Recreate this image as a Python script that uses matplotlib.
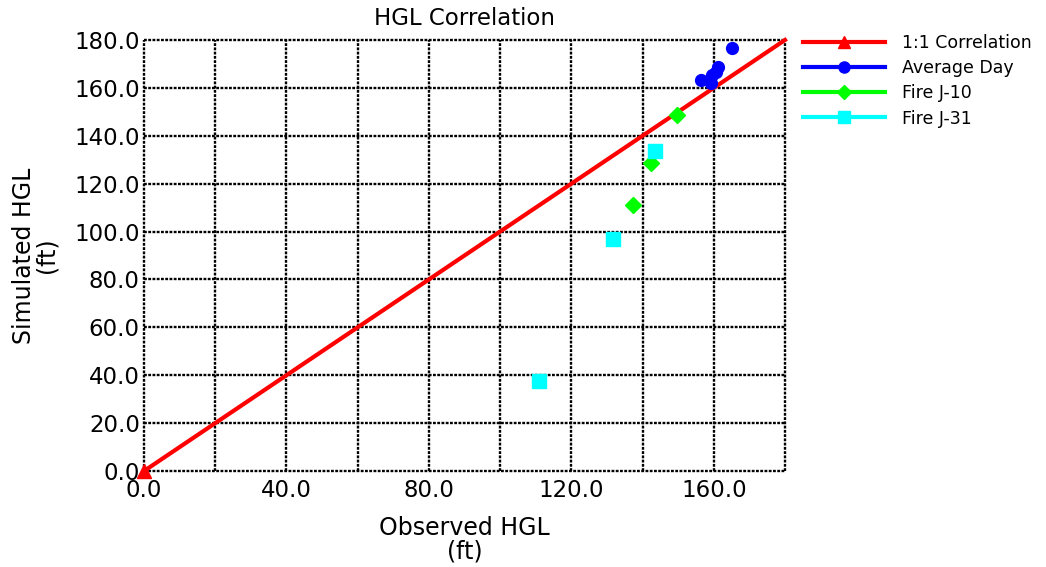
import matplotlib
matplotlib.use("Agg")
import matplotlib.pyplot as plt
from matplotlib.lines import Line2D

plt.rcParams['font.family'] = ['DejaVu Sans']

corr_x = [0.0, 180.0]
corr_y = [0.0, 180.0]

avg_x = [156.3, 159.2, 159.6, 160.5, 161.3, 165.2]
avg_y = [163.3, 161.9, 165.5, 166.8, 168.6, 176.8]

j10_x = [137.2, 142.3, 149.6]
j10_y = [111.1, 128.5, 148.7]

j31_x = [110.9, 131.6, 143.5]
j31_y = [37.7, 97.0, 133.8]

x_label_vals = [0, 40, 80, 120, 160]
grid_vals = [0, 20, 40, 60, 80, 100, 120, 140, 160, 180]

dot = (0, (1.2, 0.6))

fig = plt.figure(figsize=(10.46, 5.67), dpi=100)
ax = fig.add_axes([0.1377, 0.1693, 0.7505 - 0.1377, 0.9295 - 0.1693])

ax.plot(corr_x, corr_y, color='#ff0000', lw=3, zorder=3, clip_on=False)
ax.plot([corr_x[0]], [corr_y[0]], marker='^', color='#ff0000', ms=10, ls='none', zorder=4, clip_on=False)
ax.plot(avg_x, avg_y, marker='o', color='#0000ff', ms=8.5, ls='none', zorder=5)
ax.plot(j10_x, j10_y, marker='D', color='#00ff00', ms=8, ls='none', zorder=5)
ax.plot(j31_x, j31_y, marker='s', color='#00ffff', ms=9.5, ls='none', zorder=5)

ax.set_xlim(0, 180)
ax.set_ylim(0, 180)
ax.set_xticks(grid_vals)
ax.set_yticks(grid_vals)
ax.set_xticklabels([f"{v:.1f}" if v in x_label_vals else "" for v in grid_vals])
ax.set_yticklabels([f"{v:.1f}" for v in grid_vals])
ax.tick_params(which='both', length=0, labelsize=16.5)
ax.tick_params(axis='x', pad=6)
ax.tick_params(axis='y', pad=3)
ax.grid(True, color='black', ls=dot, lw=1.7)
for gl in ax.get_xgridlines() + ax.get_ygridlines():
    gl.set_clip_on(False)
for s in ax.spines.values():
    s.set_visible(False)

ax.set_xlabel("Observed HGL\n(ft)", fontsize=17, linespacing=0.95, labelpad=10)
ax.set_ylabel("Simulated HGL\n(ft)", fontsize=17, linespacing=0.95, labelpad=11)
ax.set_title("HGL Correlation", fontsize=16.5, pad=11)

handles = [
    Line2D([], [], color='#ff0000', lw=3, marker='^', ms=9),
    Line2D([], [], color='#0000ff', lw=3, marker='o', ms=8),
    Line2D([], [], color='#00ff00', lw=3, marker='D', ms=7),
    Line2D([], [], color='#00ffff', lw=3, marker='s', ms=9),
]
labels = ["1:1 Correlation", "Average Day", "Fire J-10", "Fire J-31"]
fig.legend(handles, labels, loc='upper left', bbox_to_anchor=(0.758, 0.959),
           frameon=False, fontsize=12.5, handlelength=4.7, handletextpad=1.0,
           labelspacing=0.42, borderaxespad=0.2)

fig.savefig("out.png", dpi=100)
